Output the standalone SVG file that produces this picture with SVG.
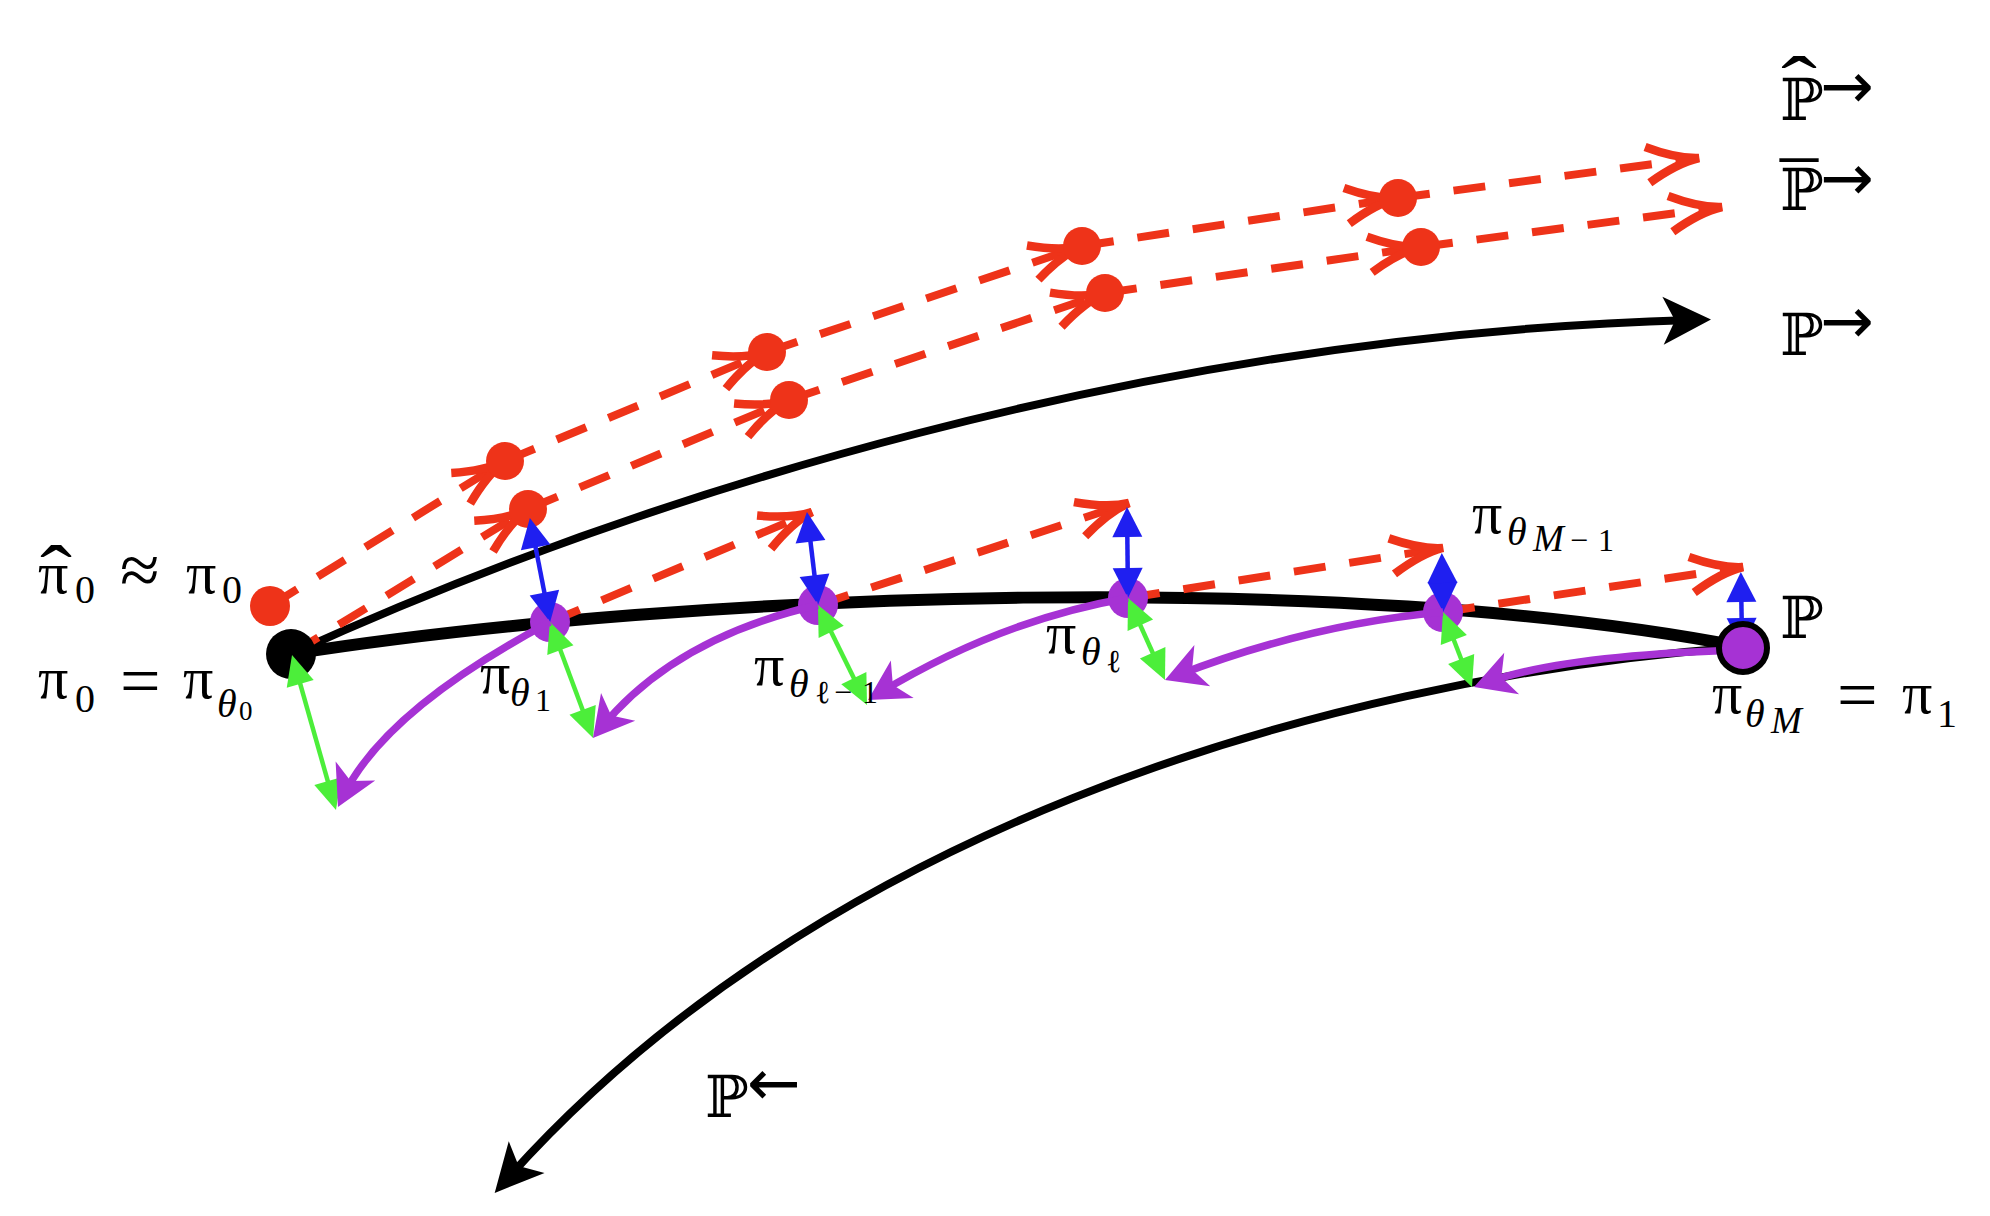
<svg xmlns="http://www.w3.org/2000/svg" width="1990" height="1216" viewBox="0 0 1990 1216">
<style>
.m{font-family:"Liberation Serif","DejaVu Serif",serif;font-size:60px;fill:#000}
.rel{font-size:72px}
.s{font-size:40px}
.ss{font-size:32px}
.it{font-style:italic}
.bb{font-family:"DejaVu Serif","DejaVu Sans",serif;font-size:58px;fill:#000}
.acc{font-family:"Liberation Serif",serif;font-size:80px}
.ar{font-family:"DejaVu Sans",sans-serif;font-size:64px;fill:#000}
.blk{fill:none;stroke:#000;stroke-width:8}
.main{fill:none;stroke:#000;stroke-width:12}
.dash{fill:none;stroke:#ee3319;stroke-width:8;stroke-dasharray:32 24;marker-end:url(#mRed)}
.grn{stroke:#4cee3a;stroke-width:4.5;marker-start:url(#mG);marker-end:url(#mG)}
.blu{stroke:#1f1ff0;stroke-width:4.5;marker-start:url(#mB);marker-end:url(#mB)}
.pur{fill:none;stroke:#a632d4;stroke-width:7.5;marker-end:url(#mP)}
.rdot{fill:#ee3319}
.pdot{fill:#a632d4}
</style>
<defs>
<marker id="mRed" markerUnits="userSpaceOnUse" orient="auto" overflow="visible" markerWidth="10" markerHeight="10" refX="0" refY="0">
<path d="M-52,-18 Q-22,-2 0,0 Q-22,2 -52,18" fill="none" stroke="#ee3319" stroke-width="8.5"/>
</marker>
<marker id="mK" markerUnits="userSpaceOnUse" orient="auto" overflow="visible" markerWidth="10" markerHeight="10" refX="0" refY="0">
<path d="M20,0 L-28,-24 L-16,0 L-28,24 Z" fill="#000"/>
</marker>
<marker id="mP" markerUnits="userSpaceOnUse" orient="auto" overflow="visible" markerWidth="10" markerHeight="10" refX="0" refY="0">
<path d="M12,0 L-28,-22 L-17,0 L-28,22 Z" fill="#a632d4"/>
</marker>
<marker id="mG" markerUnits="userSpaceOnUse" orient="auto-start-reverse" overflow="visible" markerWidth="10" markerHeight="10" refX="0" refY="0">
<path d="M8,0 L-22,-14 L-22,14 Z" fill="#4cee3a"/>
</marker>
<marker id="mB" markerUnits="userSpaceOnUse" orient="auto-start-reverse" overflow="visible" markerWidth="10" markerHeight="10" refX="0" refY="0">
<path d="M8,0 L-22,-15 L-22,15 Z" fill="#1f1ff0"/>
</marker>
</defs>
<rect width="1990" height="1216" fill="#fff"/>

<g id="trajectories">
<path class="main" d="M291,654 C700,590 1350,570 1743,647"/>
<path class="blk" d="M291,654 C640,495 1150,335 1691,320" marker-end="url(#mK)"/>
<path class="blk" d="M1743,647 C1300,680 810,840 508,1178" marker-end="url(#mK)"/>
<path class="dash" d="M270,606 L505,461"/>
<path class="dash" d="M505,461 L767,352"/>
<path class="dash" d="M767,352 L1082,246"/>
<path class="dash" d="M1082,246 L1398,198"/>
<path class="dash" d="M1398,198 L1699,158"/>
<path class="dash" d="M291,654 L528,509"/>
<path class="dash" d="M528,509 L789,400"/>
<path class="dash" d="M789,400 L1105,293"/>
<path class="dash" d="M1105,293 L1421,247"/>
<path class="dash" d="M1421,247 L1722,207"/>
<path class="dash" d="M550,622 L812,512"/>
<path class="dash" d="M818,605 L1129,503"/>
<path class="dash" d="M1128,598 L1443,548"/>
<path class="dash" d="M1443,612 L1743,567"/>
</g>

<g id="node-pi0"><circle cx="291" cy="654" r="25" fill="#000"/></g>
<g id="node-pihat0"><circle class="rdot" cx="270" cy="606" r="20"/></g>
<g id="node-u1"><circle class="rdot" cx="505" cy="461" r="19"/></g>
<g id="node-u2"><circle class="rdot" cx="767" cy="352" r="19"/></g>
<g id="node-u3"><circle class="rdot" cx="1082" cy="246" r="19"/></g>
<g id="node-u4"><circle class="rdot" cx="1398" cy="198" r="19"/></g>
<g id="node-l1"><circle class="rdot" cx="528" cy="509" r="19"/></g>
<g id="node-l2"><circle class="rdot" cx="789" cy="400" r="19"/></g>
<g id="node-l3"><circle class="rdot" cx="1105" cy="293" r="19"/></g>
<g id="node-l4"><circle class="rdot" cx="1421" cy="247" r="19"/></g>
<g id="node-th1"><circle class="pdot" cx="550" cy="622" r="20"/></g>
<g id="node-thl-1"><circle class="pdot" cx="818" cy="605" r="20"/></g>
<g id="node-thl"><circle class="pdot" cx="1128" cy="598" r="20"/></g>
<g id="node-thM-1"><circle class="pdot" cx="1443" cy="612" r="20"/></g>

<g id="connectors">
<line class="grn" x1="294.2" y1="662.7" x2="333.8" y2="802.3"/>
<line class="grn" x1="552.7" y1="629.5" x2="590.3" y2="730.5"/>
<line class="grn" x1="821.5" y1="612.2" x2="863.5" y2="697.8"/>
<line class="grn" x1="1131.3" y1="605.3" x2="1161.7" y2="672.7"/>
<line class="grn" x1="1445.9" y1="619.5" x2="1469.1" y2="679.5"/>
<line class="blu" x1="548.6" y1="614.1" x2="531.4" y2="525.9"/>
<line class="blu" x1="817.1" y1="597.1" x2="807.9" y2="519.9"/>
<line class="blu" x1="1127.9" y1="590" x2="1127.1" y2="515"/>
<line class="blu" x1="1443" y1="604" x2="1442" y2="561"/>
<line class="blu" x1="1742" y1="640" x2="1741" y2="580"/>
<path class="pur" d="M550,622 Q385,710 343.2,796.2"/>
<path class="pur" d="M818,605 Q674,638 600.5,728.7"/>
<path class="pur" d="M1128,598 Q1000,620 878.3,693.8"/>
<path class="pur" d="M1443,612 Q1310,624 1176.2,675.7"/>
<path class="pur" d="M1743,650 Q1563,655 1485.3,682.9"/>
</g>

<g id="node-thM"><circle cx="1743" cy="648" r="24" fill="#a632d4" stroke="#000" stroke-width="6"/></g>

<g id="labels">
<text class="m" x="38" y="593">π<tspan class="acc" x="40" dy="8" textLength="32" lengthAdjust="spacingAndGlyphs">ˆ</tspan></text>
<text class="m s" x="75" y="603">0</text>
<text class="m rel" x="120" y="594">≈</text>
<text class="m" x="186" y="593">π</text>
<text class="m s" x="222" y="603">0</text>

<text class="m" x="38" y="698">π</text>
<text class="m s" x="75" y="712">0</text>
<text class="m rel" x="120" y="705">=</text>
<text class="m" x="183" y="698">π</text>
<text class="m s it" x="217" y="717">θ</text>
<text class="m" x="239" y="720" style="font-size:27px">0</text>

<text class="m" x="480" y="693">π</text>
<text class="m s it" x="510" y="706">θ</text>
<text class="m ss" x="535" y="711">1</text>

<text class="m" x="754" y="685">π</text>
<text class="m s it" x="789" y="697">θ</text>
<text class="m ss" x="815" y="703">ℓ</text>
<text class="m ss" x="834" y="703">−</text>
<text class="m ss" x="862" y="703">1</text>

<text class="m" x="1046" y="653">π</text>
<text class="m s it" x="1081" y="665">θ</text>
<text class="m ss" x="1106" y="672">ℓ</text>

<text class="m" x="1472" y="533">π</text>
<text class="m s it" x="1507" y="545">θ</text>
<text class="m it" x="1533" y="551" style="font-size:37px">M</text>
<text class="m ss" x="1570" y="551">−</text>
<text class="m ss" x="1598" y="551">1</text>

<text class="bb" x="1780" y="638">ℙ</text>

<text class="m" x="1712" y="713">π</text>
<text class="m s it" x="1745" y="727">θ</text>
<text class="m it" x="1771" y="733" style="font-size:37px">M</text>
<text class="m rel" x="1837" y="719">=</text>
<text class="m" x="1902" y="713">π</text>
<text class="m s" x="1937" y="727">1</text>

<text class="bb" x="1780" y="120">ℙ<tspan class="acc" x="1781" dy="-8" textLength="36" lengthAdjust="spacingAndGlyphs">ˆ</tspan></text>
<text class="ar" x="1820" y="108">→</text>

<text class="bb" x="1780" y="210">ℙ<tspan class="acc" x="1780" dy="9" textLength="38" lengthAdjust="spacingAndGlyphs">¯</tspan></text>
<text class="ar" x="1820" y="200">→</text>

<text class="bb" x="1780" y="355">ℙ</text>
<text class="ar" x="1820" y="343">→</text>

<text class="bb" x="705" y="1117">ℙ</text>
<text class="ar" x="747" y="1105">←</text>
</g>
</svg>
